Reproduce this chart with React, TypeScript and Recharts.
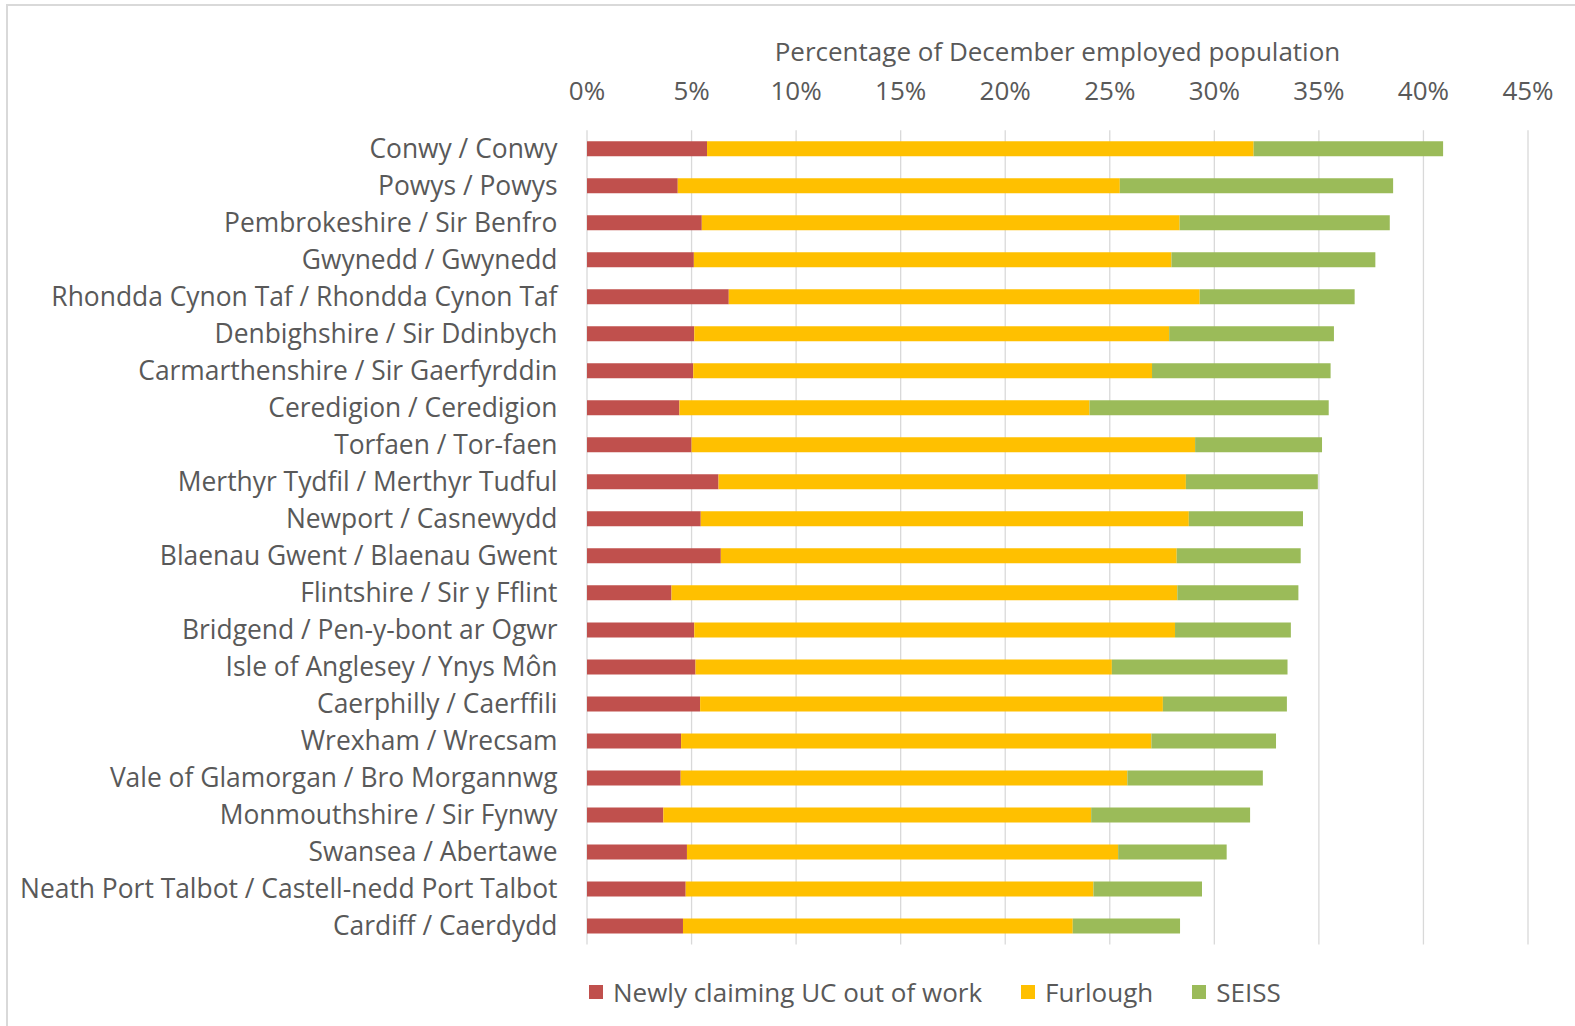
import React from 'react';
import { BarChart, Bar, XAxis, YAxis, CartesianGrid, Legend } from 'recharts';

const areas = [
  'Conwy / Conwy',
  'Powys / Powys',
  'Pembrokeshire / Sir Benfro',
  'Gwynedd / Gwynedd',
  'Rhondda Cynon Taf / Rhondda Cynon Taf',
  'Denbighshire / Sir Ddinbych',
  'Carmarthenshire / Sir Gaerfyrddin',
  'Ceredigion / Ceredigion',
  'Torfaen / Tor-faen',
  'Merthyr Tydfil / Merthyr Tudful',
  'Newport / Casnewydd',
  'Blaenau Gwent / Blaenau Gwent',
  'Flintshire / Sir y Fflint',
  'Bridgend / Pen-y-bont ar Ogwr',
  'Isle of Anglesey / Ynys Môn',
  'Caerphilly / Caerffili',
  'Wrexham / Wrecsam',
  'Vale of Glamorgan / Bro Morgannwg',
  'Monmouthshire / Sir Fynwy',
  'Swansea / Abertawe',
  'Neath Port Talbot / Castell-nedd Port Talbot',
  'Cardiff / Caerdydd',
];

// % of December employed population
const ucOutOfWork = [5.74, 4.34, 5.49, 5.11, 6.78, 5.13, 5.08, 4.42, 5.0, 6.29, 5.44, 6.4, 4.04, 5.13, 5.19, 5.41, 4.5, 4.48, 3.65, 4.78, 4.72, 4.59];
const furlough = [26.14, 21.14, 22.85, 22.84, 22.52, 22.71, 21.94, 19.61, 24.08, 22.35, 23.34, 21.8, 24.19, 22.99, 19.91, 22.13, 22.49, 21.36, 20.46, 20.62, 19.5, 18.64];
const seiss = [9.06, 13.07, 10.05, 9.75, 7.41, 7.88, 8.54, 11.44, 6.07, 6.31, 5.46, 5.93, 5.79, 5.54, 8.4, 5.93, 5.96, 6.48, 7.6, 5.19, 5.19, 5.13];

const xTicks = [0, 5, 10, 15, 20, 25, 30, 35, 40, 45];

const data = areas.map((name, i) => ({
  name,
  uc: ucOutOfWork[i],
  furlough: furlough[i],
  seiss: seiss[i],
}));

const FONT = '"Open Sans", sans-serif';
const TEXT = '#595959';

const legendItems = [
  { label: 'Newly claiming UC out of work', color: '#C0504D' },
  { label: 'Furlough', color: '#FFC000' },
  { label: 'SEISS', color: '#9BBB59' },
];

function ChartLegend() {
  return (
    <div style={{ display: 'flex', alignItems: 'center', fontFamily: FONT, fontSize: 26, color: TEXT, whiteSpace: 'nowrap' }}>
      {legendItems.map((it, i) => (
        <div key={it.label} style={{ display: 'flex', alignItems: 'center', marginLeft: i === 0 ? 0 : 39 }}>
          <span style={{ width: 14, height: 14, background: it.color, display: 'inline-block', marginRight: 10 }} />
          <span>{it.label}</span>
        </div>
      ))}
    </div>
  );
}

export default function App() {
  return (
    <div style={{ position: 'fixed', left: 0, top: 0, width: 1575, height: 1026, background: '#fff', overflow: 'hidden' }}>
      <div
        style={{
          position: 'absolute',
          left: 6,
          top: 4,
          width: 1600,
          height: 1100,
          border: '2px solid #d9d9d9',
          boxSizing: 'border-box',
        }}
      />
      <div
        style={{
          position: 'absolute',
          left: 587,
          width: 941,
          top: 33,
          textAlign: 'center',
          fontFamily: FONT,
          fontSize: 26,
          color: TEXT,
          lineHeight: '36px',
          whiteSpace: 'nowrap',
        }}
      >
        Percentage of December employed population
      </div>
      <BarChart
        width={1575}
        height={1026}
        data={data}
        layout="vertical"
        margin={{ top: 0, right: 47, bottom: 81.5, left: 0 }}
        style={{ position: 'absolute', left: 0, top: 0 }}
      >
        <CartesianGrid horizontal={false} stroke="#d9d9d9" strokeWidth={1.3} />
        <XAxis
          type="number"
          orientation="top"
          domain={[0, 45]}
          ticks={xTicks}
          tickFormatter={(v) => `${v}%`}
          axisLine={false}
          tickLine={false}
          tickSize={0}
          tickMargin={30}
          height={130.2}
          tick={{ fill: TEXT, fontSize: 26, fontFamily: FONT }}
          interval={0}
        />
        <YAxis
          type="category"
          dataKey="name"
          width={587}
          axisLine={false}
          tickLine={false}
          tickSize={0}
          tickMargin={29.5}
          interval={0}
          tick={{ fill: TEXT, fontSize: 26.4, fontFamily: FONT }}
        />
        <Legend
          layout="horizontal"
          verticalAlign="middle"
          align="center"
          wrapperStyle={{ left: 589, top: 974, width: 'auto' }}
          content={() => <ChartLegend />}
        />
        <Bar dataKey="uc" stackId="a" fill="#C0504D" barSize={15} isAnimationActive={false} />
        <Bar dataKey="furlough" stackId="a" fill="#FFC000" barSize={15} isAnimationActive={false} />
        <Bar dataKey="seiss" stackId="a" fill="#9BBB59" barSize={15} isAnimationActive={false} />
      </BarChart>
    </div>
  );
}
